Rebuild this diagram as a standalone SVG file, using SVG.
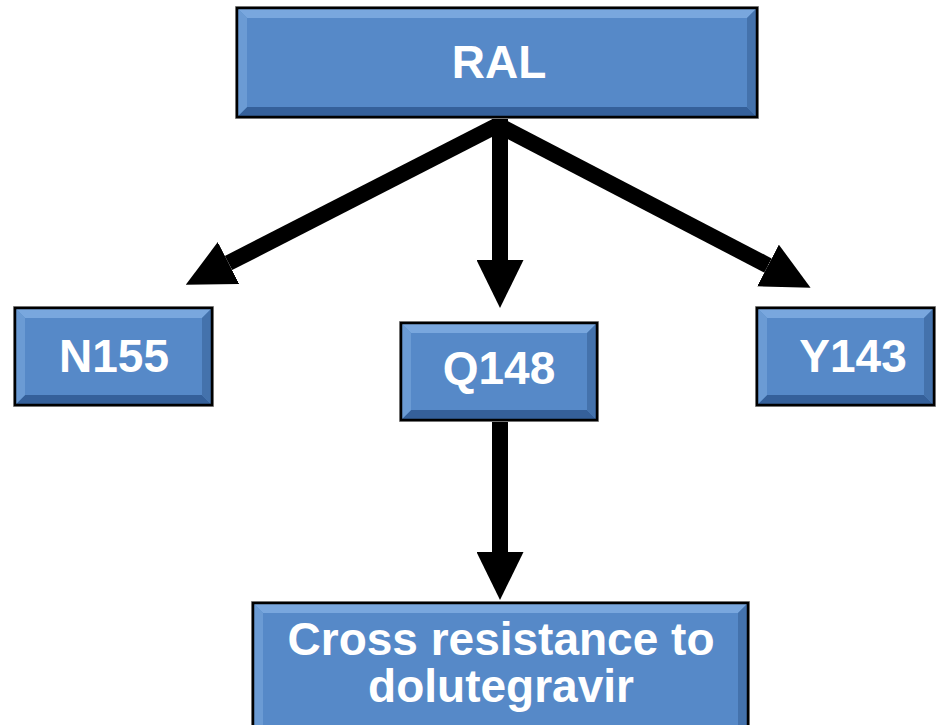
<svg xmlns="http://www.w3.org/2000/svg" width="936" height="725" viewBox="0 0 936 725">
<style>
.face{fill:#5689C8}
.bt{fill:#79A7DE}
.bl{fill:#6B9BD4}
.bb{fill:#35609A}
.br{fill:#4472AC}
.edge{fill:none;stroke:#000;stroke-width:2.5}
.halo{fill:none;stroke:#9a9a9a;stroke-width:1}
.lbl{font-family:"Liberation Sans",Arial,sans-serif;font-weight:bold;font-size:46px;fill:#fff;text-anchor:middle}
.shaft{stroke:#000;stroke-width:16;fill:none;marker-end:url(#head)}
</style>
<defs>
<marker id="head" viewBox="0 0 48 47" refX="0" refY="23.5" markerWidth="48" markerHeight="47" markerUnits="userSpaceOnUse" orient="auto">
<path d="M0,0 L48,23.5 L0,47 Z" fill="#000"/>
</marker>
</defs>
<rect width="936" height="725" fill="#fff"/>
<g id="connectors">
<line class="shaft" x1="502" y1="123" x2="228.5" y2="263"/>
<line class="shaft" x1="494" y1="123" x2="768" y2="265.5"/>
<line class="shaft" x1="500" y1="116" x2="500" y2="260"/>
<line class="shaft" x1="500" y1="420" x2="500" y2="552"/>
</g>
<g id="ral">
<rect class="face" x="237" y="8" width="520" height="109"/>
<polygon class="bt" points="237,8 757,8 747,18 247,18"/>
<polygon class="bb" points="237,117 757,117 747,107 247,107"/>
<polygon class="bl" points="237,8 247,18 247,107 237,117"/>
<polygon class="br" points="757,8 747,18 747,107 757,117"/>
<rect class="halo" x="235.5" y="6.5" width="523" height="112"/>
<rect class="edge" x="237" y="8" width="520" height="109"/>
<text class="lbl" x="499" y="78">RAL</text>
</g>
<g id="n155">
<rect class="face" x="15" y="308" width="197" height="97"/>
<polygon class="bt" points="15,308 212,308 202,318 25,318"/>
<polygon class="bb" points="15,405 212,405 202,395 25,395"/>
<polygon class="bl" points="15,308 25,318 25,395 15,405"/>
<polygon class="br" points="212,308 202,318 202,395 212,405"/>
<rect class="halo" x="13.5" y="306.5" width="200" height="100"/>
<rect class="edge" x="15" y="308" width="197" height="97"/>
<text class="lbl" x="114" y="372">N155</text>
</g>
<g id="q148">
<rect class="face" x="401" y="323" width="196" height="97"/>
<polygon class="bt" points="401,323 597,323 587,333 411,333"/>
<polygon class="bb" points="401,420 597,420 587,410 411,410"/>
<polygon class="bl" points="401,323 411,333 411,410 401,420"/>
<polygon class="br" points="597,323 587,333 587,410 597,420"/>
<rect class="halo" x="399.5" y="321.5" width="199" height="100"/>
<rect class="edge" x="401" y="323" width="196" height="97"/>
<text class="lbl" x="499" y="384">Q148</text>
</g>
<g id="y143">
<rect class="face" x="757" y="308" width="177" height="97"/>
<polygon class="bt" points="757,308 934,308 924,318 767,318"/>
<polygon class="bb" points="757,405 934,405 924,395 767,395"/>
<polygon class="bl" points="757,308 767,318 767,395 757,405"/>
<polygon class="br" points="934,308 924,318 924,395 934,405"/>
<rect class="halo" x="755.5" y="306.5" width="180" height="100"/>
<rect class="edge" x="757" y="308" width="177" height="97"/>
<text class="lbl" x="853" y="372">Y143</text>
</g>
<g id="cross">
<rect class="face" x="253" y="603" width="495" height="130"/>
<polygon class="bt" points="253,603 748,603 738,613 263,613"/>
<polygon class="bl" points="253,603 263,613 263,733 253,733"/>
<polygon class="br" points="748,603 738,613 738,733 748,733"/>
<rect class="halo" x="251.5" y="601.5" width="498" height="133"/>
<rect class="edge" x="253" y="603" width="495" height="130"/>
<text class="lbl" x="501" y="655" style="font-size:46px">Cross resistance to</text>
<text class="lbl" x="501" y="702" style="font-size:46px">dolutegravir</text>
</g>
</svg>
